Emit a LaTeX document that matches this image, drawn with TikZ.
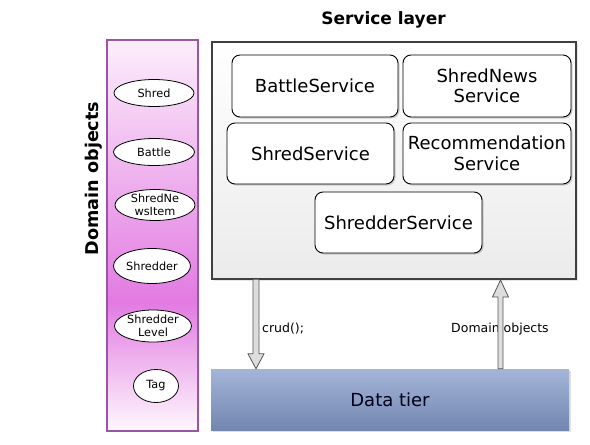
\documentclass[tikz,border=0pt]{standalone}
\usepackage{fontspec}
\setmainfont{DejaVu Sans}
\usetikzlibrary{shapes.geometric,shadows,calc}
\definecolor{purpbord}{HTML}{9B55A5}
\definecolor{magpeak}{HTML}{E27AE2}
\definecolor{magtop}{HTML}{FCEEFB}
\definecolor{magbot}{HTML}{FEF8FD}
\definecolor{tiertop}{HTML}{A4B5D8}
\definecolor{tierbot}{HTML}{7286B0}
\definecolor{panelbot}{HTML}{EBEBEB}
\definecolor{arrowfill}{HTML}{DDDDDD}
\definecolor{arrowline}{HTML}{555555}
\pgfdeclareverticalshading{domainshade}{100bp}{color(0bp)=(magbot); color(25bp)=(magbot); color(41.5bp)=(magpeak); color(75bp)=(magtop); color(100bp)=(magtop)}
\tikzset{
  svcbox/.style={draw=black, line width=0.9pt, fill=white, rounded corners=8pt,
    align=center, inner sep=0pt, font=\fontsize{18}{20.5}\selectfont,
    drop shadow={shadow xshift=1.5pt, shadow yshift=-1.5pt, opacity=0.35}},
  domobj/.style={draw=black, line width=0.8pt, fill=white, ellipse, inner sep=0pt,
    align=center, font=\fontsize{11.3}{12.5}\selectfont},
  blockarrow/.style={fill=arrowfill, draw=arrowline, line width=0.8pt, line join=miter},
  smalllabel/.style={font=\fontsize{12.5}{14}\selectfont, inner sep=0pt}
}
\begin{document}
\begin{tikzpicture}[x=1pt,y=-1pt]
\useasboundingbox (0,0) rectangle (590,445);
% Domain objects panel
\node[draw=purpbord, line width=1.6pt, shading=domainshade, minimum width=91pt, minimum height=391pt, inner sep=0pt,
  drop shadow={shadow xshift=1.2pt, shadow yshift=-1.2pt, opacity=0.25}] (dom) at (152.5,235.5) {};
\node[rotate=90, font=\bfseries\fontsize{17.6}{20}\selectfont] (domtitle) at (94,178.5) {Domain objects};
\node[domobj, minimum width=80pt, minimum height=27pt] (shred) at (154,93) {Shred};
\node[domobj, minimum width=81pt, minimum height=27pt] (battle) at (154,152) {Battle};
\node[domobj, minimum width=80pt, minimum height=31pt] (newsitem) at (155,205) {ShredNe\\wsItem};
\node[domobj, minimum width=77pt, minimum height=35pt] (shredder) at (152,266) {Shredder};
\node[domobj, minimum width=77pt, minimum height=32pt] (level) at (153,326) {Shredder\\Level};
\node[domobj, minimum width=45pt, minimum height=33pt] (tag) at (156,386) {Tag};
% Service layer
\node[font=\bfseries\fontsize{17}{20}\selectfont] (svctitle) at (383.5,20) {Service layer};
\node[draw=black!75, line width=1.2pt, top color=white, bottom color=panelbot, minimum width=364pt, minimum height=237pt, inner sep=0pt,
  drop shadow={shadow xshift=1.5pt, shadow yshift=-1.5pt, opacity=0.2}] (svc) at (394,160.5) {};
\node[svcbox, minimum width=166pt, minimum height=62pt] (battlesvc) at (315,86) {BattleService};
\node[svcbox, minimum width=168pt, minimum height=62pt] (newssvc) at (487,86) {ShredNews\\Service};
\node[svcbox, minimum width=167pt, minimum height=61pt] (shredsvc) at (310.5,153.5) {ShredService};
\node[svcbox, minimum width=168pt, minimum height=61pt] (recsvc) at (487,153.5) {Recommendation\\Service};
\node[svcbox, minimum width=167pt, minimum height=61pt] (shreddersvc) at (398.5,222.5) {ShredderService};
% Data tier
\node[top color=tiertop, bottom color=tierbot, minimum width=358pt, minimum height=61pt, inner sep=0pt,
  font=\fontsize{18}{21}\selectfont, text=black!90!blue,
  drop shadow={shadow xshift=1.5pt, shadow yshift=-1.5pt, opacity=0.25}] (tier) at (390,399.5) {Data tier};
% Labels
\node[smalllabel, anchor=west] (crudlbl) at (262,329) {crud();};
\node[smalllabel] (domlbl) at (500,329) {Domain objects};
% Arrows
\coordinate (crudS) at (svc.south -| 256,0);
\coordinate (crudE) at (tier.north -| 256,0);
\coordinate (upS) at (tier.north -| 500.5,0);
\coordinate (upE) at (500.5,280);
\draw[blockarrow] let \p1=(crudS), \p2=(crudE) in
  (\x1-3pt,\y1) -- (\x1-3pt,\y2+15pt) -- (\x1-8pt,\y2+15pt) -- (\x2,\y2) -- (\x1+8pt,\y2+15pt) -- (\x1+3pt,\y2+15pt) -- (\x1+3pt,\y1);
\draw[blockarrow] let \p1=(upS), \p2=(upE) in
  (\x1-2.5pt,\y1) -- (\x1-2.5pt,\y2-17pt) -- (\x1-8pt,\y2-17pt) -- (\x2,\y2) -- (\x1+8pt,\y2-17pt) -- (\x1+2.5pt,\y2-17pt) -- (\x1+2.5pt,\y1) -- cycle;
\end{tikzpicture}
\end{document}
